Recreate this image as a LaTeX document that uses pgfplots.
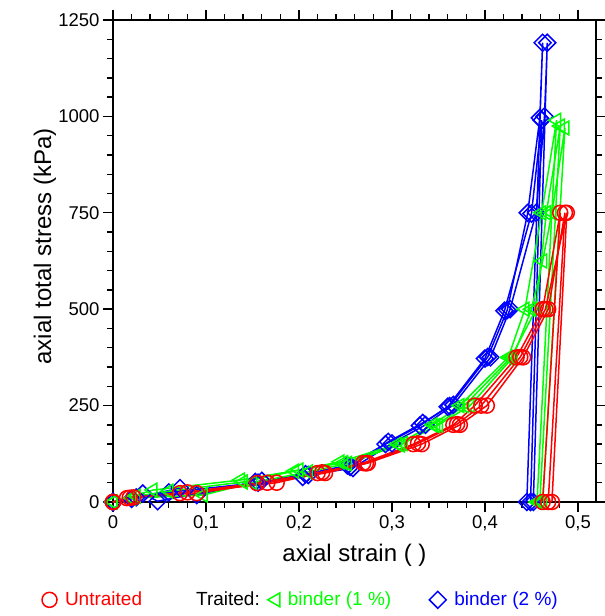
\documentclass[border=0pt]{standalone}
\usepackage{fontspec}
\setmainfont{Liberation Sans}
\usepackage{pgfplots}
\pgfplotsset{compat=1.18}
\pgfplotsset{
 rc/.style={red, line width=1.5pt, mark=o, mark size=7.5pt, mark options={solid}},
 gt/.style={green, line width=1.5pt, mark=triangle, mark size=8pt, mark options={solid, rotate=90}},
 bd/.style={blue, line width=1.5pt, mark=square, mark size=6pt, mark options={solid, rotate=45}},
}
\begin{document}
\begin{tikzpicture}
\path[use as bounding box] (-113pt,-114pt) rectangle (492pt,502pt);
\begin{axis}[
 scale only axis, width=483pt, height=482pt,
 xmin=0, xmax=0.5194, ymin=0, ymax=1250,
 xtick={0,0.1,0.2,0.3,0.4,0.5}, xticklabels={0,{0,1},{0,2},{0,3},{0,4},{0,5}},
 ytick={0,250,500,750,1000,1250}, yticklabels={0,250,500,750,1000,1250},
 minor x tick num=4, minor y tick num=4,
 xticklabel pos=left, yticklabel pos=left,
 xtick pos=both, ytick pos=both,
 tick align=outside,
 major tick length=10pt, minor tick length=6pt,
 axis line style={line width=1.6pt},
 every tick/.style={black, line width=1.4pt},
 tick label style={font=\fontsize{18.5}{20}\selectfont},
 /pgf/number format/assume math mode=true,
 xlabel={axial strain ( )}, ylabel={axial total stress (kPa)},
 label style={font=\fontsize{24}{28}\selectfont},
 xlabel style={at={(axis description cs:0.5,-0.11)}, anchor=center},
 ylabel style={at={(axis description cs:-0.141,0.53)}, anchor=center},
 clip=false,
 legend columns=3,
 legend style={draw=none, fill=none, at={(axis description cs:0.389,-0.203)}, anchor=center,
   font=\fontsize{19}{22}\selectfont,
   /tikz/column 2/.style={column sep=6pt},
   /tikz/column 4/.style={column sep=36pt}},
]
% binder 2 %
\addplot[bd, forget plot] coordinates {(0,0) (0.032,22) (0.048,2) (0.153,52) (0.204,65) (0.255,91) (0.296,156) (0.333,205) (0.362,249) (0.403,376) (0.424,498) (0.446,750) (0.459,996) (0.462,1191) (0.445,0)};
\addplot[bd, forget plot] coordinates {(0,0) (0.020,8) (0.072,36) (0.090,18) (0.160,55) (0.210,70) (0.258,88) (0.300,152) (0.336,200) (0.366,252) (0.406,375) (0.427,500) (0.455,750) (0.464,1000) (0.467,1191) (0.452,0)};
\addplot[bd, forget plot] coordinates {(0,0) (0.025,12) (0.060,25) (0.156,50) (0.207,72) (0.252,95) (0.293,150) (0.330,198) (0.360,247) (0.400,372) (0.421,496) (0.450,748) (0.461,990) (0.449,0)};
% binder 1 %
\addplot[gt, forget plot] coordinates {(0,0) (0.043,31) (0.137,57) (0.200,83) (0.244,104) (0.306,150) (0.344,200) (0.373,250) (0.425,375) (0.443,500) (0.461,750) (0.477,990) (0.456,0)};
\addplot[gt, forget plot] coordinates {(0,0) (0.020,10) (0.097,18) (0.150,50) (0.210,78) (0.252,100) (0.312,152) (0.350,200) (0.384,250) (0.430,375) (0.450,500) (0.462,625) (0.472,750) (0.486,970) (0.462,0)};
\addplot[gt, forget plot] coordinates {(0,0) (0.025,15) (0.060,28) (0.140,52) (0.195,80) (0.248,102) (0.309,148) (0.347,198) (0.378,250) (0.428,375) (0.455,500) (0.466,750) (0.481,975) (0.459,0)};
% untraited
\addplot[rc, forget plot] coordinates {(0,0) (0.015,10) (0.072,23) (0.155,49) (0.220,75) (0.269,101) (0.323,150) (0.366,200) (0.389,250) (0.434,375) (0.462,500) (0.481,750) (0.462,0)};
\addplot[rc, forget plot] coordinates {(0,0) (0.022,12) (0.090,23) (0.166,50) (0.228,75) (0.274,101) (0.332,150) (0.373,200) (0.402,250) (0.441,375) (0.468,500) (0.486,750) (0.468,0)};
\addplot[rc, forget plot] coordinates {(0,0) (0.018,11) (0.080,25) (0.176,50) (0.225,77) (0.272,100) (0.328,152) (0.370,202) (0.396,250) (0.438,376) (0.465,500) (0.488,750) (0.472,0)};
\addlegendimage{rc, only marks}
\addlegendentry{\hspace{6pt}\textcolor{red}{Untraited}\hspace{54pt}Traited:}
\addlegendimage{gt, only marks}
\addlegendentry{\hspace{6pt}\textcolor{green}{binder (1 \%)}}
\addlegendimage{bd, only marks}
\addlegendentry{\hspace{6pt}\textcolor{blue}{binder (2 \%)}}
\end{axis}
\end{tikzpicture}
\end{document}
